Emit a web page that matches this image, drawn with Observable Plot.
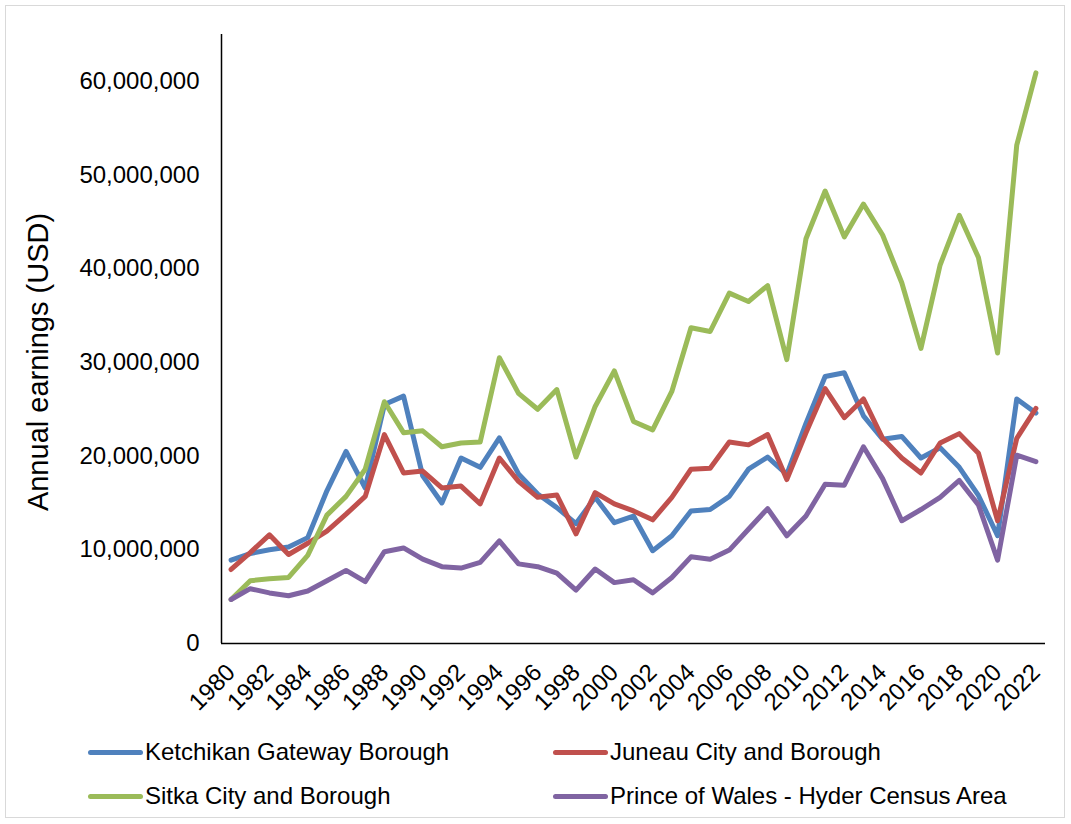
<!DOCTYPE html>
<html>
<head>
<meta charset="utf-8">
<script src="https://cdn.jsdelivr.net/npm/d3@7"></script>
<script src="https://cdn.jsdelivr.net/npm/@observablehq/plot@0.6"></script>
<style>
  html, body { margin: 0; padding: 0; background: #fff; }
  body { width: 1071px; height: 824px; position: relative; overflow: hidden; font-family: "Liberation Sans", Arial, sans-serif; }
  #frame { position: absolute; left: 5px; top: 5px; width: 1060px; height: 813px; border: 1px solid #d9d9d9; box-sizing: border-box; }
  #chart { position: absolute; left: 0; top: 0; }
  #ytitle { position: absolute; left: 38px; top: 362px; transform: translate(-50%, -50%) rotate(-90deg); font-size: 29px; white-space: nowrap; color: #000; }
  .leg { position: absolute; display: flex; align-items: center; font-size: 24px; color: #000; white-space: nowrap; }
  .leg .sw { width: 55px; height: 5px; border-radius: 3px; margin-right: 2px; }
</style>
</head>
<body>
<div id="frame"></div>
<div id="chart"></div>
<div id="ytitle">Annual earnings (USD)</div>
<div id="legend"></div>
<script>
const years = [1980,1981,1982,1983,1984,1985,1986,1987,1988,1989,1990,1991,1992,1993,1994,1995,1996,1997,1998,1999,2000,2001,2002,2003,2004,2005,2006,2007,2008,2009,2010,2011,2012,2013,2014,2015,2016,2017,2018,2019,2020,2021,2022];

const seriesNames = ["Ketchikan Gateway Borough", "Juneau City and Borough", "Sitka City and Borough", "Prince of Wales - Hyder Census Area"];
const seriesColors = ["#4F81BD", "#C0504D", "#9BBB59", "#8064A2"];

// values in millions of USD
const ketchikan = [8.9,9.6,10.0,10.3,11.3,16.3,20.5,16.6,25.5,26.4,17.9,15.0,19.8,18.8,21.95,18.1,15.95,14.5,12.8,15.6,12.9,13.6,9.9,11.5,14.15,14.3,15.7,18.6,19.9,18.05,23.5,28.5,28.9,24.3,21.8,22.1,19.8,20.9,18.8,15.8,11.5,26.1,24.6];
const juneau = [7.9,9.7,11.6,9.5,10.7,12.0,13.8,15.7,22.3,18.2,18.4,16.6,16.8,14.9,19.8,17.3,15.6,15.85,11.7,16.1,14.9,14.15,13.2,15.6,18.6,18.7,21.5,21.2,22.3,17.5,22.5,27.2,24.1,26.1,21.9,19.8,18.2,21.4,22.4,20.3,13.1,21.9,25.1];
const sitka = [4.7,6.7,6.9,7.05,9.4,13.7,15.7,18.6,25.8,22.5,22.7,21.0,21.4,21.5,30.5,26.7,25.0,27.1,19.9,25.3,29.1,23.7,22.8,26.9,33.7,33.3,37.4,36.5,38.2,30.3,43.2,48.3,43.4,46.9,43.6,38.5,31.5,40.4,45.7,41.2,31.0,53.2,60.9];
const princeOfWales = [4.7,5.85,5.4,5.1,5.6,6.7,7.8,6.6,9.8,10.2,9.0,8.2,8.05,8.65,10.95,8.5,8.2,7.5,5.7,7.95,6.5,6.8,5.4,7.05,9.25,9.0,9.97,12.2,14.4,11.5,13.6,17.0,16.9,21.0,17.6,13.1,14.3,15.6,17.4,14.8,8.9,20.1,19.4];

const xTickLabels = [1980,1982,1984,1986,1988,1990,1992,1994,1996,1998,2000,2002,2004,2006,2008,2010,2012,2014,2016,2018,2020,2022];
const yTicks = [0,10000000,20000000,30000000,40000000,50000000,60000000];
const yMax = 65000000;

const allSeries = [ketchikan, juneau, sitka, princeOfWales];
const rows = [];
allSeries.forEach((vals, si) => {
  vals.forEach((v, i) => rows.push({series: seriesNames[si], year: years[i], value: v * 1e6}));
});

const chart = Plot.plot({
  width: 1071,
  height: 700,
  marginLeft: 221,
  marginRight: 26,
  marginTop: 34,
  marginBottom: 57,
  style: { fontFamily: "'Liberation Sans', Arial, sans-serif", fontSize: "24px", color: "#000", background: "transparent", overflow: "visible" },
  x: { domain: [years[0] - 0.5, years[years.length - 1] + 0.5] },
  y: { domain: [0, yMax] },
  color: { domain: seriesNames, range: seriesColors },
  marks: [
    Plot.axisX(xTickLabels, { tickSize: 0, tickPadding: 25, tickRotate: -45, tickFormat: d => String(d), label: null, fontSize: 24 }),
    Plot.axisY(yTicks, { tickSize: 0, tickPadding: 22, tickFormat: d3.format(","), label: null, fontSize: 24 }),
    Plot.line(rows, { x: "year", y: "value", z: "series", stroke: "series", strokeWidth: 5, strokeLinecap: "round", strokeLinejoin: "round" }),
    Plot.ruleY([0], { stroke: "#000", strokeWidth: 1.5 }),
    Plot.ruleX([years[0] - 0.5], { y1: 0, y2: yMax, stroke: "#000", strokeWidth: 1.5 })
  ]
});
document.getElementById("chart").appendChild(chart);

const legend = document.getElementById("legend");
const legPos = [[88, 752], [553, 752], [88, 796], [553, 796]];
seriesNames.forEach((name, i) => {
  const item = document.createElement("div");
  item.className = "leg";
  item.style.left = legPos[i][0] + "px";
  item.style.top = (legPos[i][1] - 15) + "px";
  item.style.height = "30px";
  const sw = document.createElement("span");
  sw.className = "sw";
  sw.style.background = seriesColors[i];
  const tx = document.createElement("span");
  tx.textContent = name;
  item.appendChild(sw);
  item.appendChild(tx);
  legend.appendChild(item);
});
</script>
</body>
</html>
